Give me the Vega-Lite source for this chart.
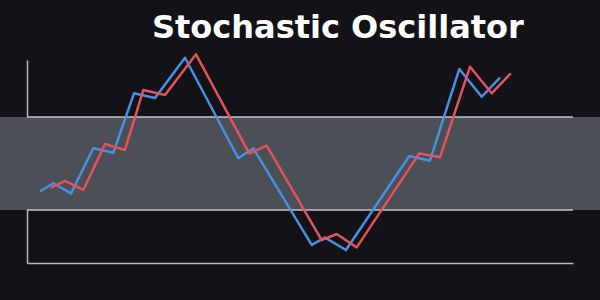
{
  "$schema": "https://vega.github.io/schema/vega-lite/v6.json",
  "width": 546,
  "height": 203,
  "autosize": {"type": "none"},
  "padding": {"left": 27, "top": 60, "right": 27, "bottom": 37},
  "background": "#131317",
  "title": {
    "text": "Stochastic Oscillator",
    "font": "DejaVu Sans",
    "fontWeight": "bold",
    "fontSize": 32,
    "color": "#ffffff",
    "anchor": "start",
    "frame": "group",
    "dx": 125,
    "dy": 38,
    "baseline": "alphabetic",
    "offset": 21
  },
  "config": {
    "view": {"stroke": null},
    "axis": {
      "domainColor": "#b8b8bc",
      "domainWidth": 1.5,
      "ticks": false,
      "labels": false,
      "grid": false,
      "title": null
    }
  },
  "datasets": {
    "lines": [
      {"period": 2.56, "value": 35.6, "series": "%K"},
      {"period": 4.82, "value": 39.3, "series": "%K"},
      {"period": 8.06, "value": 34.3, "series": "%K"},
      {"period": 12.14, "value": 56.5, "series": "%K"},
      {"period": 15.81, "value": 54.3, "series": "%K"},
      {"period": 19.6, "value": 83.6, "series": "%K"},
      {"period": 23.44, "value": 81.3, "series": "%K"},
      {"period": 28.94, "value": 101.1, "series": "%K"},
      {"period": 38.7, "value": 51.6, "series": "%K"},
      {"period": 41.45, "value": 56.5, "series": "%K"},
      {"period": 52.14, "value": 8.9, "series": "%K"},
      {"period": 54.58, "value": 12.5, "series": "%K"},
      {"period": 58.42, "value": 6.4, "series": "%K"},
      {"period": 70.02, "value": 52.7, "series": "%K"},
      {"period": 73.81, "value": 50.4, "series": "%K"},
      {"period": 79.18, "value": 95.6, "series": "%K"},
      {"period": 83.28, "value": 81.9, "series": "%K"},
      {"period": 86.5, "value": 91.0, "series": "%K"},
      {"period": 4.52, "value": 37.3, "series": "%D"},
      {"period": 6.96, "value": 40.5, "series": "%D"},
      {"period": 10.31, "value": 36.0, "series": "%D"},
      {"period": 14.29, "value": 58.6, "series": "%D"},
      {"period": 17.95, "value": 55.7, "series": "%D"},
      {"period": 21.3, "value": 85.2, "series": "%D"},
      {"period": 25.27, "value": 82.8, "series": "%D"},
      {"period": 30.95, "value": 102.8, "series": "%D"},
      {"period": 40.71, "value": 54.0, "series": "%D"},
      {"period": 43.9, "value": 57.8, "series": "%D"},
      {"period": 53.97, "value": 11.3, "series": "%D"},
      {"period": 56.72, "value": 14.3, "series": "%D"},
      {"period": 60.38, "value": 7.7, "series": "%D"},
      {"period": 71.85, "value": 54.0, "series": "%D"},
      {"period": 75.64, "value": 52.1, "series": "%D"},
      {"period": 81.14, "value": 96.7, "series": "%D"},
      {"period": 85.1, "value": 83.6, "series": "%D"},
      {"period": 88.46, "value": 93.0, "series": "%D"}
    ],
    "band": [
      {"start": -4.95, "end": 104.95, "lower": 26.1, "upper": 71.9}
    ],
    "levels": [
      {"level": 26.1},
      {"level": 71.9}
    ]
  },
  "layer": [
    {
      "data": {"name": "band"},
      "mark": {"type": "rect", "color": "#4b4f56", "opacity": 1},
      "encoding": {
        "x": {"field": "start", "type": "quantitative", "scale": {"domain": [0, 100], "nice": false, "zero": false}, "axis": {"orient": "bottom"}},
        "x2": {"field": "end"},
        "y": {"field": "lower", "type": "quantitative", "scale": {"domain": [0, 100], "nice": false}, "axis": {"orient": "left"}},
        "y2": {"field": "upper"}
      }
    },
    {
      "data": {"name": "levels"},
      "mark": {"type": "rule", "color": "#c4c4c8", "strokeWidth": 1.5},
      "encoding": {
        "y": {"field": "level", "type": "quantitative"},
        "x": {"datum": 0},
        "x2": {"datum": 100}
      }
    },
    {
      "data": {"name": "lines"},
      "mark": {"type": "line", "strokeWidth": 2.5, "strokeJoin": "round", "strokeCap": "round"},
      "encoding": {
        "x": {"field": "period", "type": "quantitative"},
        "y": {"field": "value", "type": "quantitative"},
        "color": {
          "field": "series",
          "type": "nominal",
          "scale": {"domain": ["%K", "%D"], "range": ["#4a90e2", "#e2525f"]},
          "legend": null
        },
        "order": {"field": "period", "type": "quantitative"}
      }
    }
  ]
}
